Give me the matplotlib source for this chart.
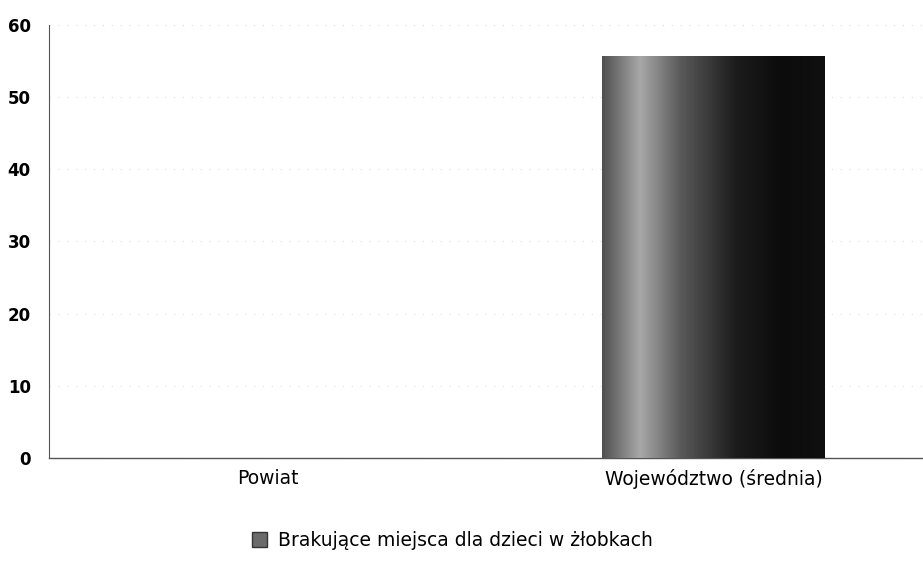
import matplotlib.pyplot as plt
import numpy as np
from matplotlib.colors import LinearSegmentedColormap

categories = ['Powiat', 'Województwo (średnia)']
values = [0, 55.7]
series_name = 'Brakujące miejsca dla dzieci w żłobkach'
yticks = [0, 10, 20, 30, 40, 50, 60]

# cylinder-like shading of the bar
shade = LinearSegmentedColormap.from_list(
    'shade', [(0.0, '#505050'), (0.17, '#a8a8a8'), (0.35, '#5a5a5a'),
              (0.6, '#1c1c1c'), (0.8, '#0c0c0c'), (1.0, '#101010')])

fig = plt.figure(figsize=(9.23, 5.64), dpi=100)
ax = fig.add_axes([0.053, 0.188, 0.947, 0.768])

x = np.arange(len(categories))
bars = ax.bar(x, values, width=0.5, color='#333333', zorder=2)

grad = np.linspace(0, 1, 256).reshape(1, -1)
for b in bars:
    if b.get_height() <= 0:
        continue
    x0, y0 = b.get_x(), b.get_y()
    im = ax.imshow(grad, cmap=shade, aspect='auto', zorder=3,
                   extent=[x0, x0 + b.get_width(), y0, y0 + b.get_height()])
    im.set_clip_path(b)

ax.set_xlim(-0.491, 1.469)
ax.set_ylim(0, 60)
ax.set_yticks(yticks)
ax.set_xticks(x)
ax.set_xticklabels(categories, fontsize=13.5)
ax.tick_params(axis='y', labelsize=12, length=0, pad=13)
ax.tick_params(axis='x', length=0, pad=8)
for lbl in ax.get_yticklabels():
    lbl.set_fontweight('bold')

ax.grid(axis='y', color='#dddddd', linestyle=(0, (1, 7)), linewidth=0.8, zorder=0)
ax.set_axisbelow(True)
for s in ['top', 'right']:
    ax.spines[s].set_visible(False)
ax.spines['left'].set_color('#555555')
ax.spines['left'].set_linestyle((0, (3, 1)))
ax.spines['left'].set_linewidth(0.8)
ax.spines['bottom'].set_color('#555555')
ax.spines['bottom'].set_linewidth(1.0)
ax.spines['bottom'].set_linestyle((0, (4, 1)))

handle = plt.Rectangle((0, 0), 1, 1, facecolor='#6a6a6a', edgecolor='#333333')
fig.legend([handle], [series_name], loc='lower center', bbox_to_anchor=(0.49, -0.005),
           frameon=False, fontsize=13.5, handlelength=0.8, handleheight=0.8,
           handletextpad=0.6)

fig.savefig('out.png', dpi=100)
